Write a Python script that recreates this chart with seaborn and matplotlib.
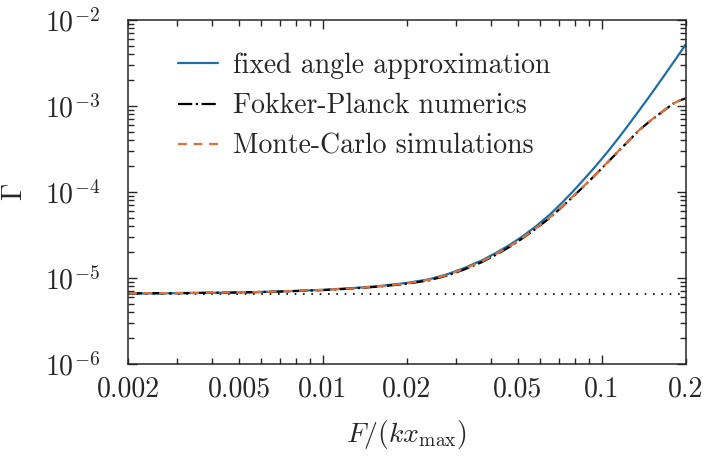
import numpy as np
import pandas as pd
import matplotlib
matplotlib.use("Agg")
import matplotlib.pyplot as plt
import matplotlib.ticker as mticker
import seaborn as sns

# ---- data ----
force = [0.002, 0.003, 0.005, 0.007, 0.01, 0.013, 0.016, 0.02, 0.024, 0.028,
         0.032, 0.037, 0.042, 0.047, 0.052, 0.058, 0.065, 0.072, 0.079, 0.087,
         0.095, 0.104, 0.115, 0.125, 0.137, 0.15, 0.165, 0.18, 0.19, 0.2]
gamma_fixed = [6.61e-6, 6.65e-6, 6.79e-6, 6.97e-6, 7.29e-6, 7.67e-6, 8.07e-6, 8.77e-6, 9.66e-6, 1.109e-5,
               1.300e-5, 1.592e-5, 1.977e-5, 2.455e-5, 3.055e-5, 3.98e-5, 5.43e-5, 7.50e-5, 1.023e-4, 1.445e-4,
               1.995e-4, 2.83e-4, 4.27e-4, 6.10e-4, 9.12e-4, 1.365e-3, 2.11e-3, 3.16e-3, 4.07e-3, 5.19e-3]
gamma_fp = [6.63e-6, 6.68e-6, 6.79e-6, 6.95e-6, 7.23e-6, 7.58e-6, 7.96e-6, 8.58e-6, 9.40e-6, 1.072e-5,
            1.250e-5, 1.522e-5, 1.882e-5, 2.325e-5, 2.900e-5, 3.740e-5, 4.99e-5, 6.72e-5, 8.88e-5, 1.200e-4,
            1.590e-4, 2.145e-4, 3.00e-4, 3.95e-4, 5.33e-4, 6.80e-4, 8.60e-4, 1.058e-3, 1.155e-3, 1.228e-3]
gamma_mc = [6.65e-6, 6.70e-6, 6.81e-6, 6.97e-6, 7.26e-6, 7.62e-6, 8.02e-6, 8.67e-6, 9.53e-6, 1.089e-5,
            1.271e-5, 1.549e-5, 1.914e-5, 2.360e-5, 2.938e-5, 3.784e-5, 5.04e-5, 6.78e-5, 8.95e-5, 1.208e-4,
            1.600e-4, 2.158e-4, 3.02e-4, 3.97e-4, 5.35e-4, 6.82e-4, 8.61e-4, 1.059e-3, 1.156e-3, 1.230e-3]
baseline_x = [0.002, 0.2]
baseline_y = [6.5e-6, 6.5e-6]

x_tick_values = [0.002, 0.005, 0.01, 0.02, 0.05, 0.1, 0.2]
x_tick_labels = ["0.002", "0.005", "0.01", "0.02", "0.05", "0.1", "0.2"]

labels = ["fixed angle approximation", "Fokker-Planck numerics", "Monte-Carlo simulations"]

# ---- style ----
sns.set_theme(style="ticks")
plt.rcParams.update({
    "font.family": "serif",
    "font.serif": ["cmr10", "DejaVu Serif"],
    "mathtext.fontset": "cm",
    "axes.formatter.use_mathtext": True,
    "axes.unicode_minus": True,
    "font.size": 20,
    "axes.linewidth": 1.1,
    "xtick.direction": "in",
    "ytick.direction": "in",
    "xtick.top": True,
    "ytick.right": True,
    "xtick.major.size": 6.5,
    "ytick.major.size": 6.5,
    "xtick.minor.size": 4,
    "ytick.minor.size": 4,
    "xtick.major.width": 1.0,
    "ytick.major.width": 1.0,
    "xtick.minor.width": 1.0,
    "ytick.minor.width": 1.0,
    "xtick.labelsize": 20,
    "ytick.labelsize": 20,
    "axes.labelsize": 20,
    "legend.fontsize": 20,
})

fig = plt.figure(figsize=(7.07, 4.62), dpi=100)
ax = fig.add_axes([0.181, 0.212, 0.789, 0.745])

df_fixed = pd.DataFrame({"F": force, "G": gamma_fixed})
df_fp = pd.DataFrame({"F": force, "G": gamma_fp})
df_mc = pd.DataFrame({"F": force, "G": gamma_mc})
df_base = pd.DataFrame({"F": baseline_x, "G": baseline_y})

blue = "#1f6fa5"
orange = "#e0703c"

sns.lineplot(data=df_base, x="F", y="G", ax=ax, color="black", lw=1.2,
             linestyle=(0, (1, 4)), legend=False)
sns.lineplot(data=df_fixed, x="F", y="G", ax=ax, color=blue, lw=1.6, label=labels[0])
sns.lineplot(data=df_fp, x="F", y="G", ax=ax, color="black", lw=1.6,
             linestyle=(0, (6.4, 1.6, 1, 1.6)), label=labels[1])
sns.lineplot(data=df_mc, x="F", y="G", ax=ax, color=orange, lw=1.6,
             linestyle=(0, (4, 3)), label=labels[2])

ax.set_xscale("log")
ax.set_yscale("log")
ax.set_xlim(0.002, 0.2)
ax.set_ylim(1e-6, 1e-2)

# x ticks: decades major, others minor; labels on 2 and 5 multiples
ax.xaxis.set_major_locator(mticker.LogLocator(base=10, numticks=10))
ax.xaxis.set_minor_locator(mticker.LogLocator(base=10, subs=np.arange(2, 10), numticks=10))
lab_map = dict(zip([round(v, 6) for v in x_tick_values], x_tick_labels))
fmt = mticker.FuncFormatter(lambda v, p: lab_map.get(round(v, 6), ""))
ax.xaxis.set_major_formatter(fmt)
ax.xaxis.set_minor_formatter(fmt)
ax.tick_params(axis="x", which="both", pad=9)

ax.yaxis.set_major_locator(mticker.LogLocator(base=10, numticks=10))
ax.yaxis.set_minor_locator(mticker.LogLocator(base=10, subs=np.arange(2, 10), numticks=10))
ax.yaxis.set_major_formatter(mticker.LogFormatterMathtext())
ax.yaxis.set_minor_formatter(mticker.NullFormatter())
ax.tick_params(axis="y", which="both", pad=20)

ax.set_xlabel(r"$F/(kx_{\max})$", labelpad=11)
ax.set_ylabel(r"$\Gamma$", labelpad=12)

ax.legend(loc="upper left", bbox_to_anchor=(0.089, 0.905), frameon=False,
          handlelength=1.45, handletextpad=0.55, labelspacing=0.5,
          borderaxespad=0, borderpad=0)

fig.savefig("out.png", dpi=100)
